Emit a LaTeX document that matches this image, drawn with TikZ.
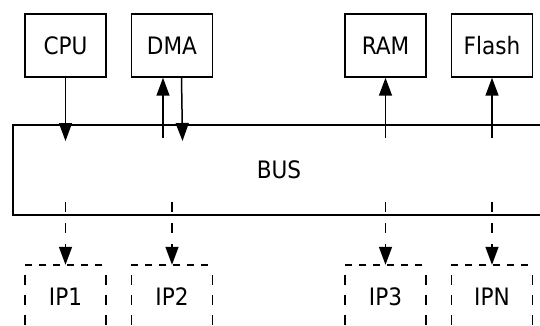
\documentclass[tikz,border=0pt]{standalone}
\usepackage{fontspec}
\setmainfont{DejaVu Sans Condensed}
\usetikzlibrary{arrows.meta}
\begin{document}
\begin{tikzpicture}[x=1pt,y=-1pt,
  lbl/.style={font=\fontsize{24}{28}\selectfont, inner sep=0pt},
  box/.style={lbl, draw, line width=1.5pt, minimum width=81pt, minimum height=63pt},
  ipbox/.style={lbl, minimum width=81pt, minimum height=63pt},
  arr/.style={line width=1.5pt, -{Triangle[length=18pt,width=13pt]}},
  darr/.style={arr, dash pattern=on 10pt off 11pt},
  dtop/.style={line width=1.5pt, dash pattern=on 7pt off 7pt},
  dside/.style={line width=1.5pt, dash pattern=on 10pt off 10pt, dash phase=10pt}]
\useasboundingbox (0,0) rectangle (540,326);
\clip (0,0) rectangle (540,326);
% top boxes
\node[box] (cpu) at (65.5,45.5) {CPU};
\node[box] (dma) at (172,45.5) {DMA};
\node[box] (ram) at (385.5,45.5) {RAM};
\node[box] (flash) at (492,45.5) {Flash};
% bus
\node[box, minimum width=532pt, minimum height=90pt] (bus) at (279,170) {BUS};
% IP boxes
\node[ipbox] (ip1) at (65.5,296.5) {IP1};
\node[ipbox] (ip2) at (172,296.5) {IP2};
\node[ipbox] (ip3) at (385.5,296.5) {IP3};
\node[ipbox] (ipn) at (492,296.5) {IPN};
\foreach \n in {ip1,ip2,ip3,ipn}{
  \draw[dtop] (\n.north west) -- (\n.north east);
  \draw[dside] (\n.north west) -- (\n.south west);
  \draw[dside] (\n.north east) -- (\n.south east);
}
% solid arrows
\coordinate (cpuend) at (65.5,141);
\draw[arr] (cpu) -- (cpuend);
\coordinate (dmaup) at (163,138);
\draw[arr] (dmaup) -- (dmaup |- dma.south);
\coordinate (dmadn) at (182.5,141);
\draw[arr] ([xshift=9.5pt]dma.south) -- (dmadn);
\coordinate (ramst) at (385.5,138);
\draw[arr] (ramst) -- (ram);
\coordinate (flashst) at (492,138);
\draw[arr] (flashst) -- (flash);
% dashed arrows
\coordinate (d1) at (65.5,202);
\coordinate (d2) at (172,202);
\coordinate (d3) at (385.5,202);
\coordinate (d4) at (492,202);
\draw[darr] (d1) -- (ip1);
\draw[darr] (d2) -- (ip2);
\draw[darr] (d3) -- (ip3);
\draw[darr] (d4) -- (ipn);
\end{tikzpicture}
\end{document}
